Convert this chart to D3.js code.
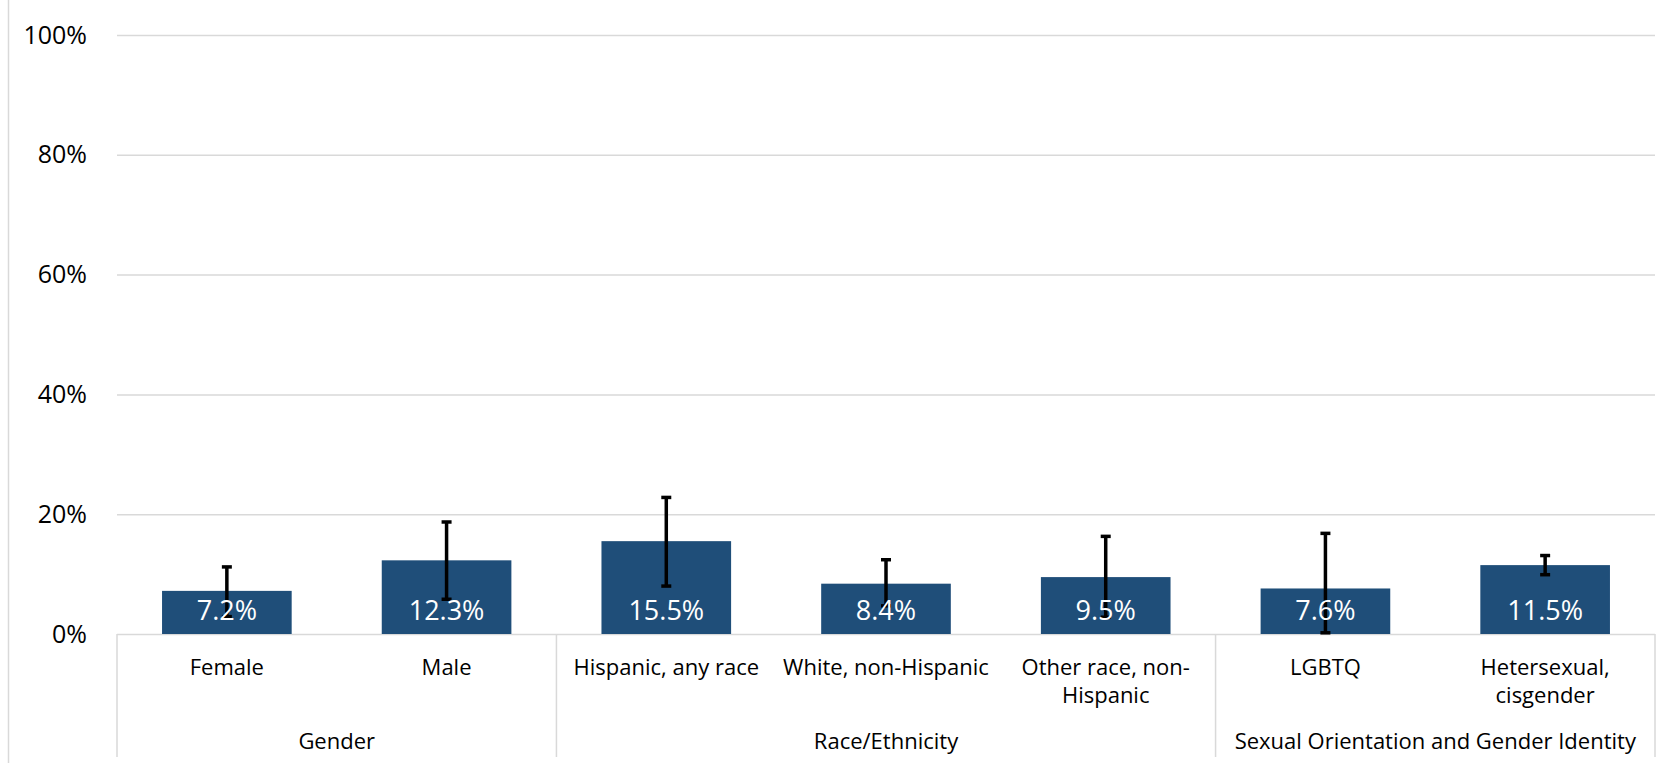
<!DOCTYPE html>
<html>
<head>
<meta charset="utf-8">
<script src="https://cdn.jsdelivr.net/npm/d3@7"></script>
<style>
  html, body { margin: 0; padding: 0; background: #ffffff; }
  svg { display: block; font-family: "Open Sans", "Noto Sans", sans-serif; }
</style>
</head>
<body>
<svg id="chart" width="1669" height="763"></svg>
<script>
// ---- data ----
const categories = ["Female", "Male", "Hispanic, any race", "White, non-Hispanic", "Other race, non-Hispanic", "LGBTQ", "Hetersexual, cisgender"];
const categoryLines = [["Female"], ["Male"], ["Hispanic, any race"], ["White, non-Hispanic"], ["Other race, non-", "Hispanic"], ["LGBTQ"], ["Hetersexual,", "cisgender"]];
const values = [7.2, 12.3, 15.5, 8.4, 9.5, 7.6, 11.5];
const lowerCI = [2.9, 5.8, 8.0, 4.7, 2.8, 0.2, 9.9];
const upperCI = [11.2, 18.7, 22.8, 12.4, 16.3, 16.8, 13.1];
const groups = ["Gender", "Race/Ethnicity", "Sexual Orientation and Gender Identity"];
const groupSizes = [2, 3, 2];
const yTicks = [0, 20, 40, 60, 80, 100];
const yTickLabels = ["0%", "20%", "40%", "60%", "80%", "100%"];

// ---- layout ----
const W = 1669, H = 763;
const plot = { left: 117, right: 1655, top: 35, bottom: 634 };
const barColor = "#1F4E79";
const gridColor = "#D9D9D9";

const svg = d3.select("#chart");

const x = d3.scaleBand()
  .domain(categories)
  .range([plot.left, plot.right])
  .paddingInner(0.41)
  .paddingOuter(0.205);

const y = d3.scaleLinear().domain([0, 100]).range([plot.bottom, plot.top]);

// outer left frame line
svg.append("line")
  .attr("x1", 8.5).attr("x2", 8.5).attr("y1", 0).attr("y2", H)
  .attr("stroke", gridColor).attr("stroke-width", 1.5);

// gridlines + y labels via axis
const yAxis = d3.axisLeft(y)
  .tickValues(yTicks)
  .tickSize(-(plot.right - plot.left))
  .tickPadding(30)
  .tickFormat((d, i) => yTickLabels[i]);

const yg = svg.append("g")
  .attr("transform", `translate(${plot.left},0)`)
  .call(yAxis);
yg.select(".domain").remove();
yg.selectAll(".tick line").attr("stroke", gridColor).attr("stroke-width", 1.5);
yg.selectAll(".tick text")
  .attr("fill", "#000")
  .style("font-size", "25px")
  .style("font-family", "'Open Sans', sans-serif");

// bars
const data = categories.map((c, i) => ({ c, v: values[i], lo: lowerCI[i], hi: upperCI[i], lines: categoryLines[i] }));

svg.append("g").selectAll("rect")
  .data(data).join("rect")
  .attr("x", d => x(d.c))
  .attr("width", x.bandwidth())
  .attr("y", d => y(d.v))
  .attr("height", d => y(0) - y(d.v))
  .attr("fill", barColor);

// error bars
const eb = svg.append("g").attr("stroke", "#000").attr("stroke-width", 3.5);
const capHalf = 5;
data.forEach(d => {
  const cx = x(d.c) + x.bandwidth() / 2;
  eb.append("line").attr("x1", cx).attr("x2", cx).attr("y1", y(d.lo)).attr("y2", y(d.hi));
  eb.append("line").attr("x1", cx - capHalf).attr("x2", cx + capHalf).attr("y1", y(d.lo)).attr("y2", y(d.lo));
  eb.append("line").attr("x1", cx - capHalf).attr("x2", cx + capHalf).attr("y1", y(d.hi)).attr("y2", y(d.hi));
});

// value labels
svg.append("g").selectAll("text")
  .data(data).join("text")
  .attr("x", d => x(d.c) + x.bandwidth() / 2)
  .attr("y", y(0) - 14)
  .attr("text-anchor", "middle")
  .attr("fill", "#ffffff")
  .style("font-size", "27px")
  .text(d => d.v.toFixed(1) + "%");

// category labels
const catG = svg.append("g");
data.forEach(d => {
  const t = catG.append("text")
    .attr("x", x(d.c) + x.bandwidth() / 2)
    .attr("y", 675)
    .attr("text-anchor", "middle")
    .attr("fill", "#000")
    .style("font-size", "22px");
  d.lines.forEach((ln, j) => {
    t.append("tspan").attr("x", x(d.c) + x.bandwidth() / 2).attr("dy", j === 0 ? 0 : 28).text(ln);
  });
});

// group separators and labels
const step = x.step();
let start = 0;
const sepG = svg.append("g").attr("stroke", gridColor).attr("stroke-width", 1.5);
const boundaries = [plot.left];
groups.forEach((g, gi) => {
  const end = start + groupSizes[gi];
  const x0 = x(categories[start]) - x.paddingInner() * step / 2;
  const x1 = x(categories[end - 1]) + x.bandwidth() + x.paddingInner() * step / 2;
  boundaries.push(x1);
  svg.append("text")
    .attr("x", (x0 + x1) / 2)
    .attr("y", 749)
    .attr("text-anchor", "middle")
    .attr("fill", "#000")
    .style("font-size", "22px")
    .text(g);
  start = end;
});
boundaries.forEach(bx => {
  sepG.append("line").attr("x1", bx).attr("x2", bx).attr("y1", plot.bottom).attr("y2", 757);
});
</script>
</body>
</html>
